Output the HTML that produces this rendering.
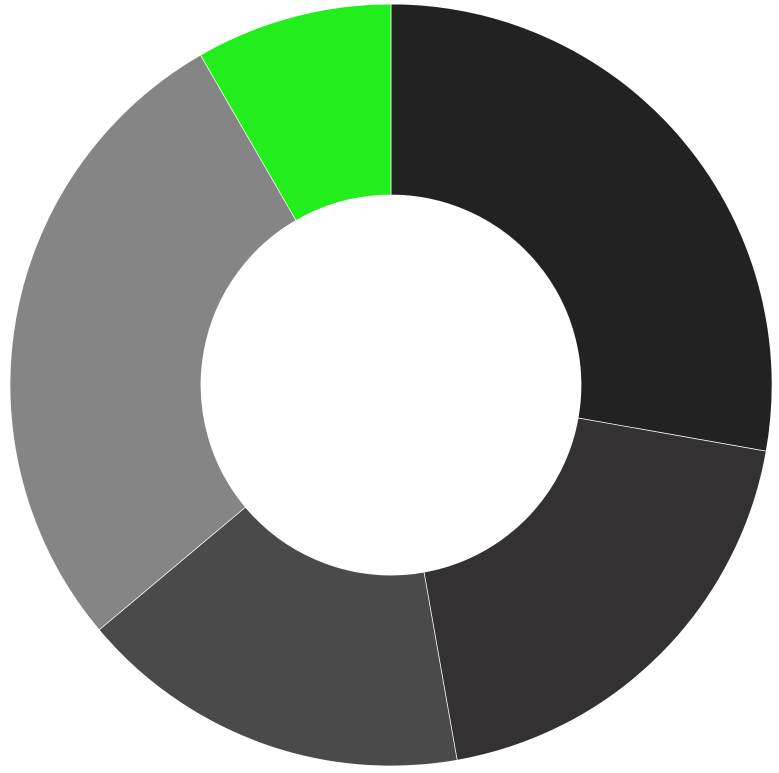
<!DOCTYPE html>
<html><head><meta charset="utf-8"><style>html,body{margin:0;padding:0;background:#fff;width:779px;height:773px;overflow:hidden}</style></head>
<body>
<svg id="chart" width="779" height="773" viewBox="0 0 779 773" xmlns="http://www.w3.org/2000/svg"></svg>
<script>
const categories = ["A","B","C","D","E"];
const values = [100, 70, 60, 100, 30];
const colors = ["#222222","#333131","#4a4a4a","#858585","#22ee1e"];
const cx = 391, cy = 385, R = 381, r = 190;
const svg = document.getElementById('chart');
const total = values.reduce((a,b)=>a+b,0);
function pt(a, rad){ return [cx + rad*Math.sin(a), cy - rad*Math.cos(a)]; }
let acc = 0;
values.forEach((v,i)=>{
  const a0 = acc/total*2*Math.PI; acc += v; const a1 = acc/total*2*Math.PI;
  const large = (a1-a0) > Math.PI ? 1 : 0;
  const [x0,y0]=pt(a0,R),[x1,y1]=pt(a1,R),[x2,y2]=pt(a1,r),[x3,y3]=pt(a0,r);
  const p = document.createElementNS('http://www.w3.org/2000/svg','path');
  p.setAttribute('d',`M${x0},${y0}A${R},${R} 0 ${large} 1 ${x1},${y1}L${x2},${y2}A${r},${r} 0 ${large} 0 ${x3},${y3}Z`);
  p.setAttribute('fill',colors[i]);
  p.setAttribute('stroke','#fff');
  p.setAttribute('stroke-width','0.7');
  
  
  svg.appendChild(p);
});
</script>
</body></html>
